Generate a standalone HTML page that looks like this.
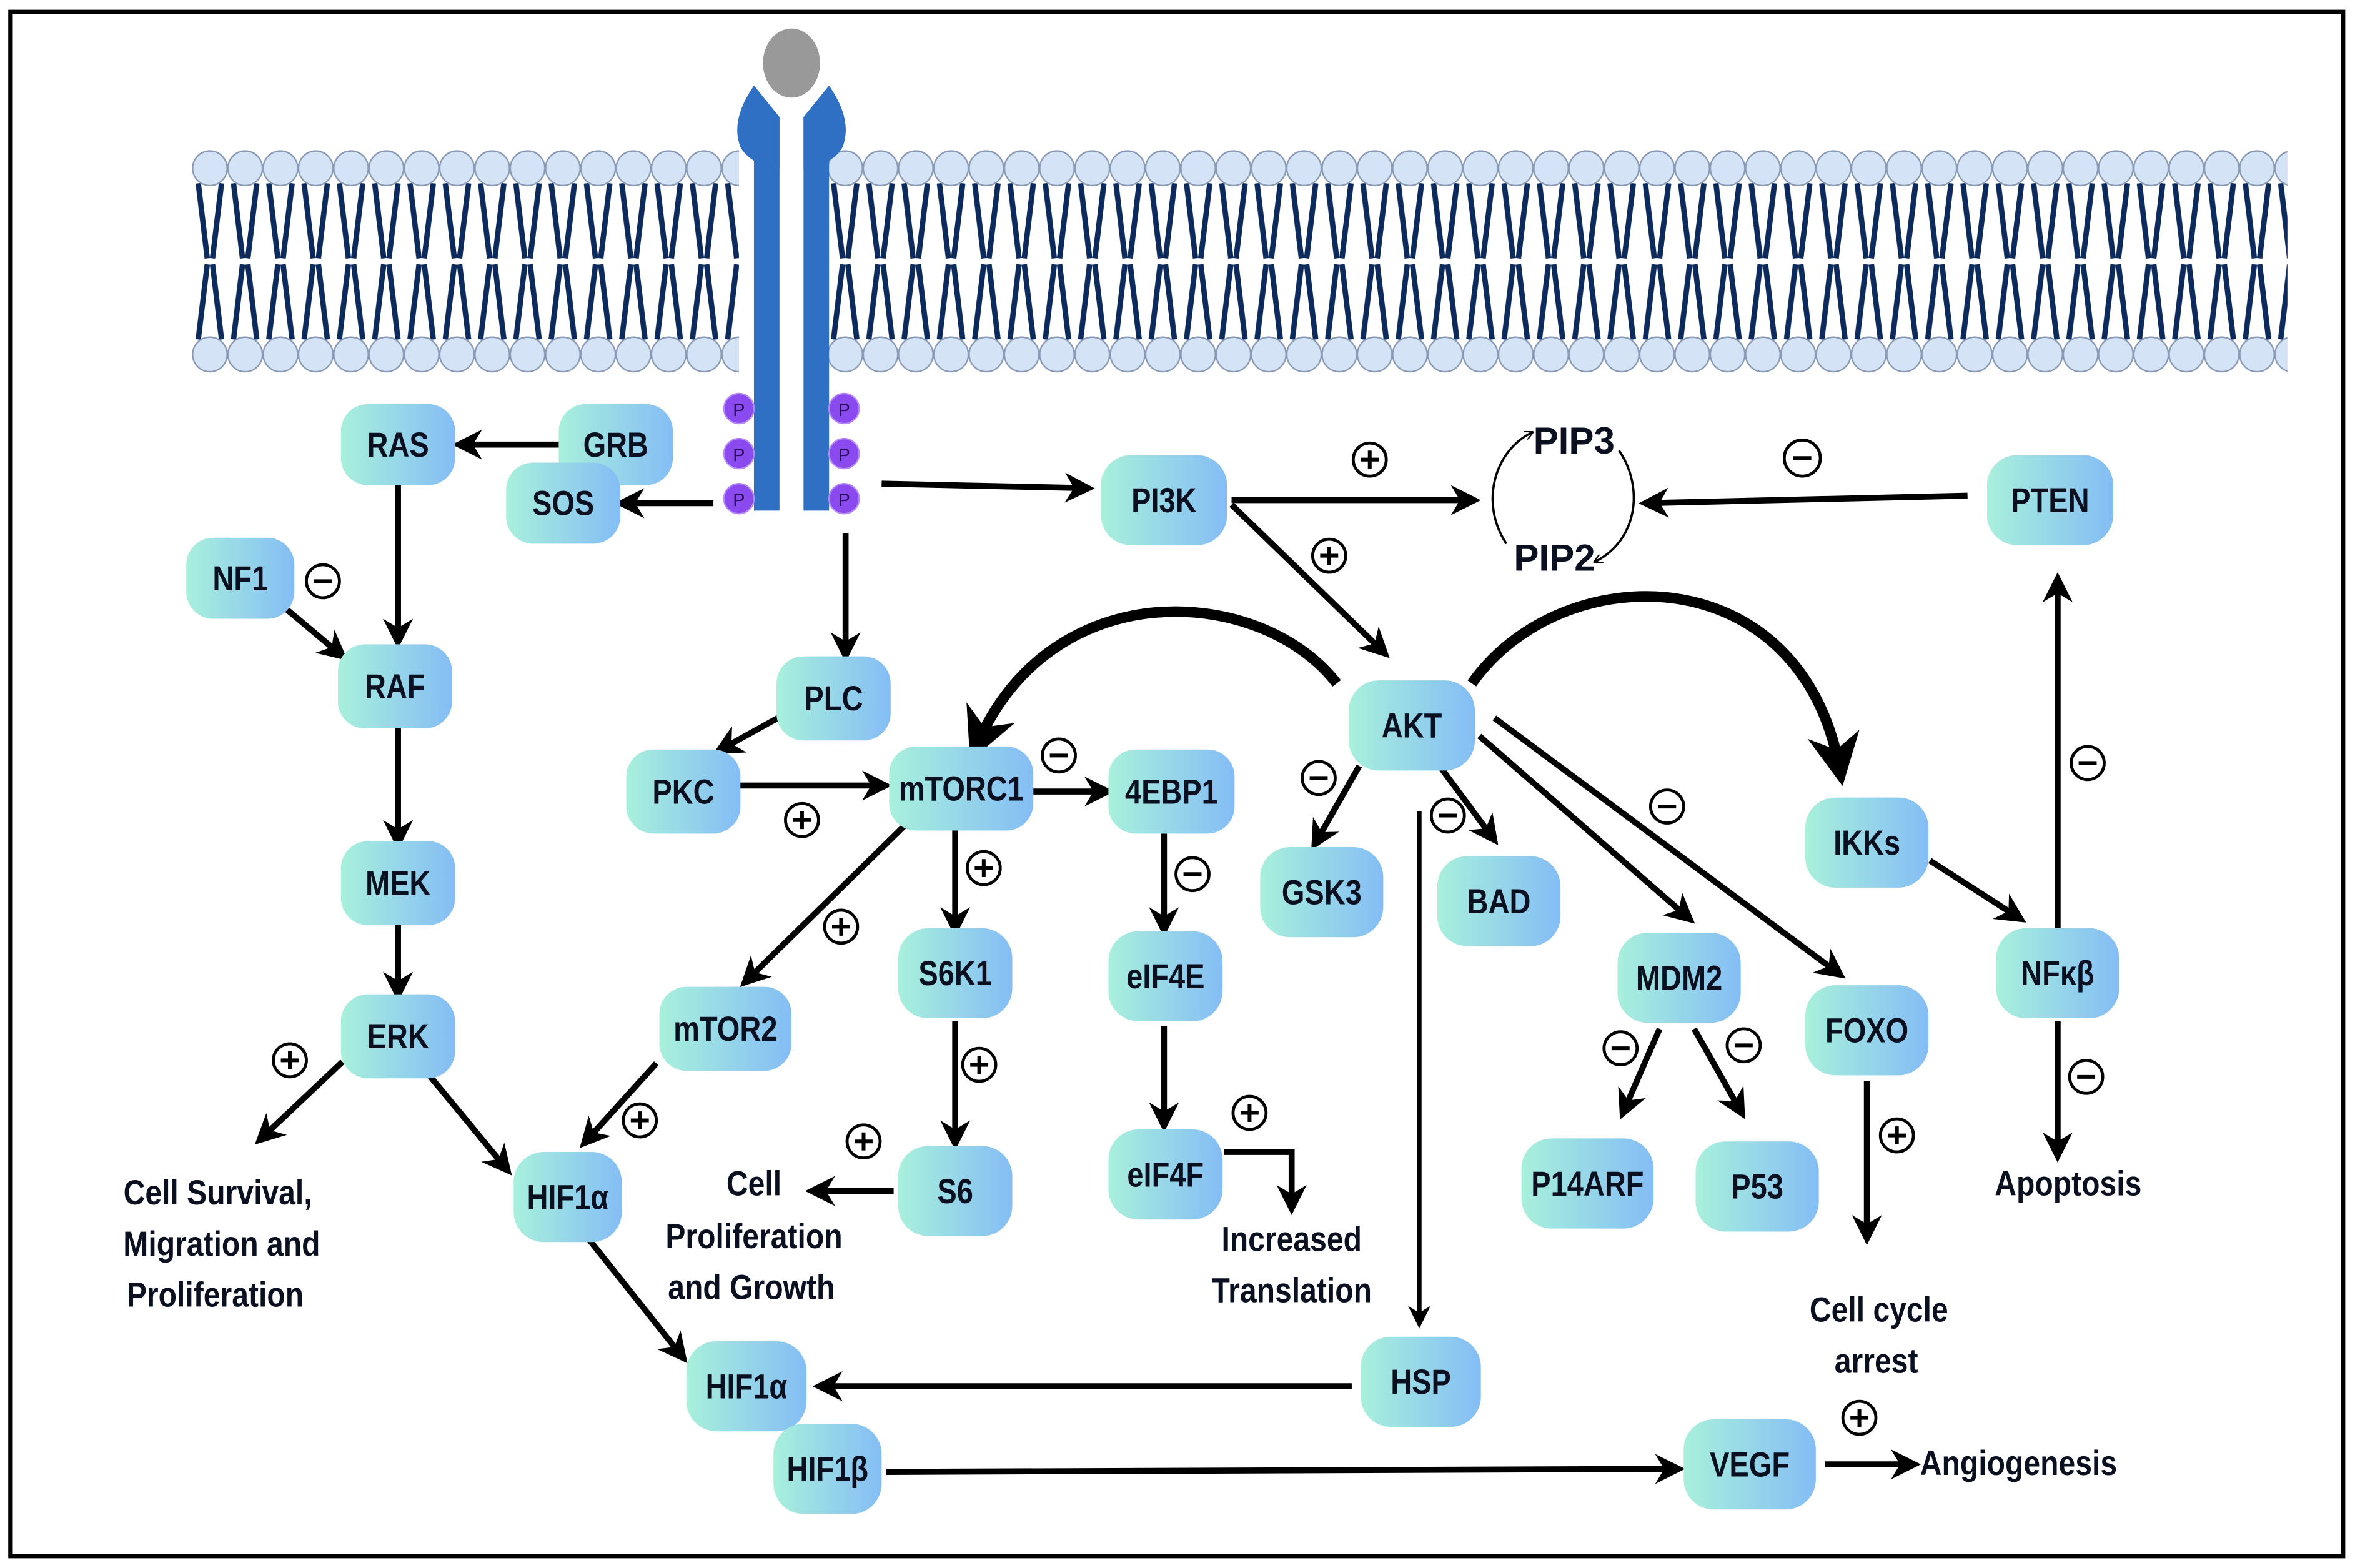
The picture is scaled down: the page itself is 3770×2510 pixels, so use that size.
<!DOCTYPE html>
<html><head><meta charset="utf-8"><style>
html,body{margin:0;padding:0;background:#fff;}
svg{display:block;}
.n text,.t{font-family:"Liberation Sans Narrow","Liberation Sans",sans-serif;font-weight:bold;fill:#0a1020;}
</style></head><body>
<svg width="3770" height="2510" viewBox="0 0 1568 1044" preserveAspectRatio="none" xmlns="http://www.w3.org/2000/svg">
<defs>
<linearGradient id="g" x1="0" x2="1" y1="0" y2="0"><stop offset="0" stop-color="#a9f0dc"/><stop offset="1" stop-color="#84bdf5"/></linearGradient>
<marker id="a" viewBox="0 0 10 10" refX="7" refY="5" markerWidth="5" markerHeight="5" orient="auto" markerUnits="strokeWidth"><path d="M0,0 L10,5 L0,10 L3,5 z" fill="#000"/></marker>
<marker id="s" viewBox="0 0 10 10" refX="8" refY="5" markerWidth="4" markerHeight="4" orient="auto" markerUnits="strokeWidth"><path d="M0,0 L10,5 L0,10" fill="none" stroke="#000" stroke-width="1.5"/></marker>
<pattern id="lip" patternUnits="userSpaceOnUse" x="128" y="0" width="23.5" height="1044">
<g stroke="#0d2a5c" stroke-width="3.6" fill="none">
<line x1="4" y1="122" x2="10" y2="172"/><line x1="19.5" y1="122" x2="13.5" y2="172"/>
<line x1="4" y1="226" x2="10" y2="176"/><line x1="19.5" y1="226" x2="13.5" y2="176"/>
</g>
<circle cx="11.75" cy="112" r="11.5" fill="#d4e3f5" stroke="#8a9ab5" stroke-width="1"/>
<circle cx="11.75" cy="236" r="11.5" fill="#d4e3f5" stroke="#8a9ab5" stroke-width="1"/>
</pattern>
</defs>
<rect x="7" y="8" width="1553" height="1028" fill="#fff" stroke="#000" stroke-width="3"/>
<rect x="128" y="98" width="364" height="155" fill="url(#lip)"/>
<rect x="551" y="98" width="972" height="155" fill="url(#lip)"/>
<ellipse cx="527" cy="42" rx="19" ry="23" fill="#999"/>
<path d="M502,57 L519,78 L519,340 L502,340 Z" fill="#2f6fc4"/>
<path d="M552,57 L535,78 L535,340 L552,340 Z" fill="#2f6fc4"/>
<path d="M502,57 Q486,80 493,98 Q500,110 519,112 L519,78 Z" fill="#2f6fc4"/>
<path d="M552,57 Q568,80 561,98 Q554,110 535,112 L535,78 Z" fill="#2f6fc4"/>
<g fill="#8a4af0" stroke="#b58af7" stroke-width="1">
<circle cx="492" cy="272" r="10"/><circle cx="492" cy="302" r="10"/><circle cx="492" cy="332" r="10"/>
<circle cx="562" cy="272" r="10"/><circle cx="562" cy="302" r="10"/><circle cx="562" cy="332" r="10"/>
</g>
<g font-family="Liberation Sans" font-size="12" fill="#2a0a60" text-anchor="middle">
<text x="492" y="277">P</text><text x="492" y="307">P</text><text x="492" y="337">P</text>
<text x="562" y="277">P</text><text x="562" y="307">P</text><text x="562" y="337">P</text>
</g>
<g stroke="#000" stroke-width="4" fill="none" marker-end="url(#a)">
<line x1="375" y1="296" x2="307" y2="296"/>
<line x1="475" y1="335" x2="415" y2="335"/>
<line x1="265" y1="320" x2="265" y2="426"/>
<line x1="190" y1="405" x2="227" y2="436"/>
<line x1="265" y1="485" x2="265" y2="560"/>
<line x1="265" y1="615" x2="265" y2="661"/>
<line x1="228" y1="707" x2="174" y2="758"/>
<line x1="285" y1="715" x2="337" y2="778"/>
<line x1="587" y1="322" x2="723" y2="325"/>
<line x1="563" y1="355" x2="563" y2="435"/>
<line x1="518" y1="478" x2="480" y2="499"/>
<line x1="492" y1="523" x2="588" y2="523"/>
<line x1="688" y1="527" x2="736" y2="527"/>
<line x1="602" y1="550" x2="497" y2="653"/>
<line x1="636" y1="553" x2="636" y2="618"/>
<line x1="775" y1="555" x2="775" y2="618"/>
<line x1="636" y1="680" x2="636" y2="760"/>
<line x1="595" y1="793" x2="542" y2="793"/>
<line x1="775" y1="683" x2="775" y2="748"/>
<polyline points="815,767 860,767 860,803"/>
<line x1="437" y1="708" x2="390" y2="760"/>
<line x1="392" y1="825" x2="454" y2="903"/>
<line x1="900" y1="923" x2="547" y2="923"/>
<line x1="590" y1="980" x2="1116" y2="978"/>
<line x1="1215" y1="975" x2="1273" y2="975"/>
<line x1="820" y1="333" x2="980" y2="333"/>
<line x1="820" y1="336" x2="921" y2="434"/>
<line x1="1310" y1="330" x2="1097" y2="335"/>
<line x1="905" y1="510" x2="876" y2="561"/>
<line x1="960" y1="512" x2="994" y2="558"/>
<line x1="985" y1="490" x2="1124" y2="611"/>
<line x1="995" y1="478" x2="1224" y2="648"/>
<line x1="1285" y1="573" x2="1344" y2="611"/>
<line x1="1370" y1="620" x2="1370" y2="387"/>
<line x1="1370" y1="680" x2="1370" y2="768"/>
<line x1="1105" y1="685" x2="1081" y2="740"/>
<line x1="1128" y1="685" x2="1159" y2="740"/>
<line x1="1243" y1="720" x2="1243" y2="823"/>
</g>
<line x1="945" y1="540" x2="945" y2="880" stroke="#000" stroke-width="3" marker-end="url(#a)"/>
<path d="M890,455 C840,390 700,380 650,497" stroke="#000" stroke-width="7" fill="none" marker-end="url(#a)"/>
<path d="M980,455 C1040,370 1200,370 1225,513" stroke="#000" stroke-width="7" fill="none" marker-end="url(#a)"/>
<path d="M1003,362 C985,335 995,300 1020,288" stroke="#000" stroke-width="1.5" fill="none" marker-end="url(#s)"/>
<path d="M1078,300 C1095,325 1090,360 1062,374" stroke="#000" stroke-width="1.5" fill="none" marker-end="url(#s)"/>
<text class="t" x="1048" y="302" font-size="25" text-anchor="middle" font-family="Liberation Sans" font-weight="bold">PIP3</text>
<text class="t" x="1035" y="380" font-size="25" text-anchor="middle" font-family="Liberation Sans" font-weight="bold">PIP2</text>
<g class="n" font-size="23" text-anchor="middle">
<g transform="translate(265,296)"><rect x="-38" y="-27" width="76" height="54" rx="18" fill="url(#g)"/><text y="8" transform="scale(0.85,1)">RAS</text></g>
<g transform="translate(410,296)"><rect x="-38" y="-27" width="76" height="54" rx="18" fill="url(#g)"/><text y="8" transform="scale(0.85,1)">GRB</text></g>
<g transform="translate(375,335)"><rect x="-38" y="-27" width="76" height="54" rx="18" fill="url(#g)"/><text y="8" transform="scale(0.85,1)">SOS</text></g>
<g transform="translate(160,385)"><rect x="-36" y="-27" width="72" height="54" rx="18" fill="url(#g)"/><text y="8" transform="scale(0.85,1)">NF1</text></g>
<g transform="translate(263,457)"><rect x="-38" y="-28" width="76" height="56" rx="18" fill="url(#g)"/><text y="8" transform="scale(0.85,1)">RAF</text></g>
<g transform="translate(265,588)"><rect x="-38" y="-28" width="76" height="56" rx="18" fill="url(#g)"/><text y="8" transform="scale(0.85,1)">MEK</text></g>
<g transform="translate(265,690)"><rect x="-38" y="-28" width="76" height="56" rx="18" fill="url(#g)"/><text y="8" transform="scale(0.85,1)">ERK</text></g>
<g transform="translate(555,465)"><rect x="-38" y="-28" width="76" height="56" rx="18" fill="url(#g)"/><text y="8" transform="scale(0.85,1)">PLC</text></g>
<g transform="translate(455,527)"><rect x="-38" y="-28" width="76" height="56" rx="18" fill="url(#g)"/><text y="8" transform="scale(0.85,1)">PKC</text></g>
<g transform="translate(640,525)"><rect x="-48" y="-28" width="96" height="56" rx="18" fill="url(#g)"/><text y="8" transform="scale(0.85,1)">mTORC1</text></g>
<g transform="translate(780,527)"><rect x="-42" y="-28" width="84" height="56" rx="18" fill="url(#g)"/><text y="8" transform="scale(0.85,1)">4EBP1</text></g>
<g transform="translate(775,333)"><rect x="-42" y="-30" width="84" height="60" rx="20" fill="url(#g)"/><text y="8" transform="scale(0.85,1)">PI3K</text></g>
<g transform="translate(1365,333)"><rect x="-42" y="-30" width="84" height="60" rx="20" fill="url(#g)"/><text y="8" transform="scale(0.85,1)">PTEN</text></g>
<g transform="translate(940,483)"><rect x="-42" y="-30" width="84" height="60" rx="20" fill="url(#g)"/><text y="8" transform="scale(0.85,1)">AKT</text></g>
<g transform="translate(880,594)"><rect x="-41" y="-30" width="82" height="60" rx="20" fill="url(#g)"/><text y="8" transform="scale(0.85,1)">GSK3</text></g>
<g transform="translate(998,600)"><rect x="-41" y="-30" width="82" height="60" rx="20" fill="url(#g)"/><text y="8" transform="scale(0.85,1)">BAD</text></g>
<g transform="translate(1118,651)"><rect x="-41" y="-30" width="82" height="60" rx="20" fill="url(#g)"/><text y="8" transform="scale(0.85,1)">MDM2</text></g>
<g transform="translate(1243,686)"><rect x="-41" y="-30" width="82" height="60" rx="20" fill="url(#g)"/><text y="8" transform="scale(0.85,1)">FOXO</text></g>
<g transform="translate(1243,561)"><rect x="-41" y="-30" width="82" height="60" rx="20" fill="url(#g)"/><text y="8" transform="scale(0.85,1)">IKKs</text></g>
<g transform="translate(1370,648)"><rect x="-41" y="-30" width="82" height="60" rx="20" fill="url(#g)"/><text y="8" transform="scale(0.85,1)">NFκβ</text></g>
<g transform="translate(483,685)"><rect x="-44" y="-28" width="88" height="56" rx="18" fill="url(#g)"/><text y="8" transform="scale(0.85,1)">mTOR2</text></g>
<g transform="translate(636,648)"><rect x="-38" y="-30" width="76" height="60" rx="20" fill="url(#g)"/><text y="8" transform="scale(0.85,1)">S6K1</text></g>
<g transform="translate(776,650)"><rect x="-38" y="-30" width="76" height="60" rx="20" fill="url(#g)"/><text y="8" transform="scale(0.85,1)">eIF4E</text></g>
<g transform="translate(776,782)"><rect x="-38" y="-30" width="76" height="60" rx="20" fill="url(#g)"/><text y="8" transform="scale(0.85,1)">eIF4F</text></g>
<g transform="translate(636,793)"><rect x="-38" y="-30" width="76" height="60" rx="20" fill="url(#g)"/><text y="8" transform="scale(0.85,1)">S6</text></g>
<g transform="translate(378,797)"><rect x="-36" y="-30" width="72" height="60" rx="20" fill="url(#g)"/><text y="8" transform="scale(0.85,1)">HIF1α</text></g>
<g transform="translate(497,923)"><rect x="-40" y="-30" width="80" height="60" rx="20" fill="url(#g)"/><text y="8" transform="scale(0.85,1)">HIF1α</text></g>
<g transform="translate(551,978)"><rect x="-36" y="-30" width="72" height="60" rx="20" fill="url(#g)"/><text y="8" transform="scale(0.85,1)">HIF1β</text></g>
<g transform="translate(946,920)"><rect x="-40" y="-30" width="80" height="60" rx="20" fill="url(#g)"/><text y="8" transform="scale(0.85,1)">HSP</text></g>
<g transform="translate(1165,975)"><rect x="-44" y="-30" width="88" height="60" rx="20" fill="url(#g)"/><text y="8" transform="scale(0.85,1)">VEGF</text></g>
<g transform="translate(1057,788)"><rect x="-44" y="-30" width="88" height="60" rx="20" fill="url(#g)"/><text y="8" transform="scale(0.85,1)">P14ARF</text></g>
<g transform="translate(1170,790)"><rect x="-41" y="-30" width="82" height="60" rx="20" fill="url(#g)"/><text y="8" transform="scale(0.85,1)">P53</text></g>
</g>
<g class="t" font-size="23" text-anchor="middle">
<g transform="translate(145,0) scale(0.87,1)"><text x="0" y="802">Cell Survival,</text><text x="3" y="836">Migration and</text><text x="-2" y="870">Proliferation</text></g>
<g transform="translate(502,0) scale(0.87,1)"><text x="0" y="796">Cell</text><text x="0" y="831">Proliferation</text><text x="-2" y="865">and Growth</text></g>
<g transform="translate(860,0) scale(0.87,1)"><text x="0" y="833">Increased</text><text x="0" y="867">Translation</text></g>
<g transform="translate(1251,0) scale(0.87,1)"><text x="0" y="880">Cell cycle</text><text x="-2" y="914">arrest</text></g>
<g transform="translate(1377,0) scale(0.87,1)"><text x="0" y="796">Apoptosis</text></g>
<g transform="translate(1344,0) scale(0.87,1)"><text x="0" y="982">Angiogenesis</text></g>
</g>
<g stroke="#000" stroke-width="2" fill="#fff">
<circle cx="912" cy="306" r="11"/><circle cx="1200" cy="305" r="12"/><circle cx="885" cy="370" r="11"/>
<circle cx="215" cy="387" r="11"/><circle cx="705" cy="503" r="11"/><circle cx="534" cy="546" r="11"/>
<circle cx="655" cy="578" r="11"/><circle cx="794" cy="582" r="11"/><circle cx="560" cy="617" r="11"/>
<circle cx="652" cy="709" r="11"/><circle cx="575" cy="760" r="11"/><circle cx="832" cy="741" r="11"/>
<circle cx="426" cy="746" r="11"/><circle cx="193" cy="706" r="11"/><circle cx="878" cy="518" r="11"/>
<circle cx="964" cy="543" r="11"/><circle cx="1110" cy="537" r="11"/><circle cx="1079" cy="698" r="11"/>
<circle cx="1161" cy="696" r="11"/><circle cx="1263" cy="756" r="11"/><circle cx="1390" cy="508" r="11"/>
<circle cx="1389" cy="717" r="11"/><circle cx="1238" cy="944" r="11"/>
</g>
<g stroke="#000" stroke-width="2.5">
<path d="M906,306h12M912,300v12 M1194,305h12 M879,370h12M885,364v12 M209,387h12 M699,503h12 M528,546h12M534,540v12 M649,578h12M655,572v12 M788,582h12 M554,617h12M560,611v12 M646,709h12M652,703v12 M569,760h12M575,754v12 M826,741h12M832,735v12 M420,746h12M426,740v12 M187,706h12M193,700v12 M872,518h12 M958,543h12 M1104,537h12 M1073,698h12 M1155,696h12 M1257,756h12M1263,750v12 M1384,508h12 M1383,717h12 M1232,944h12M1238,938v12"/>
</g>
</svg>
</body></html>
